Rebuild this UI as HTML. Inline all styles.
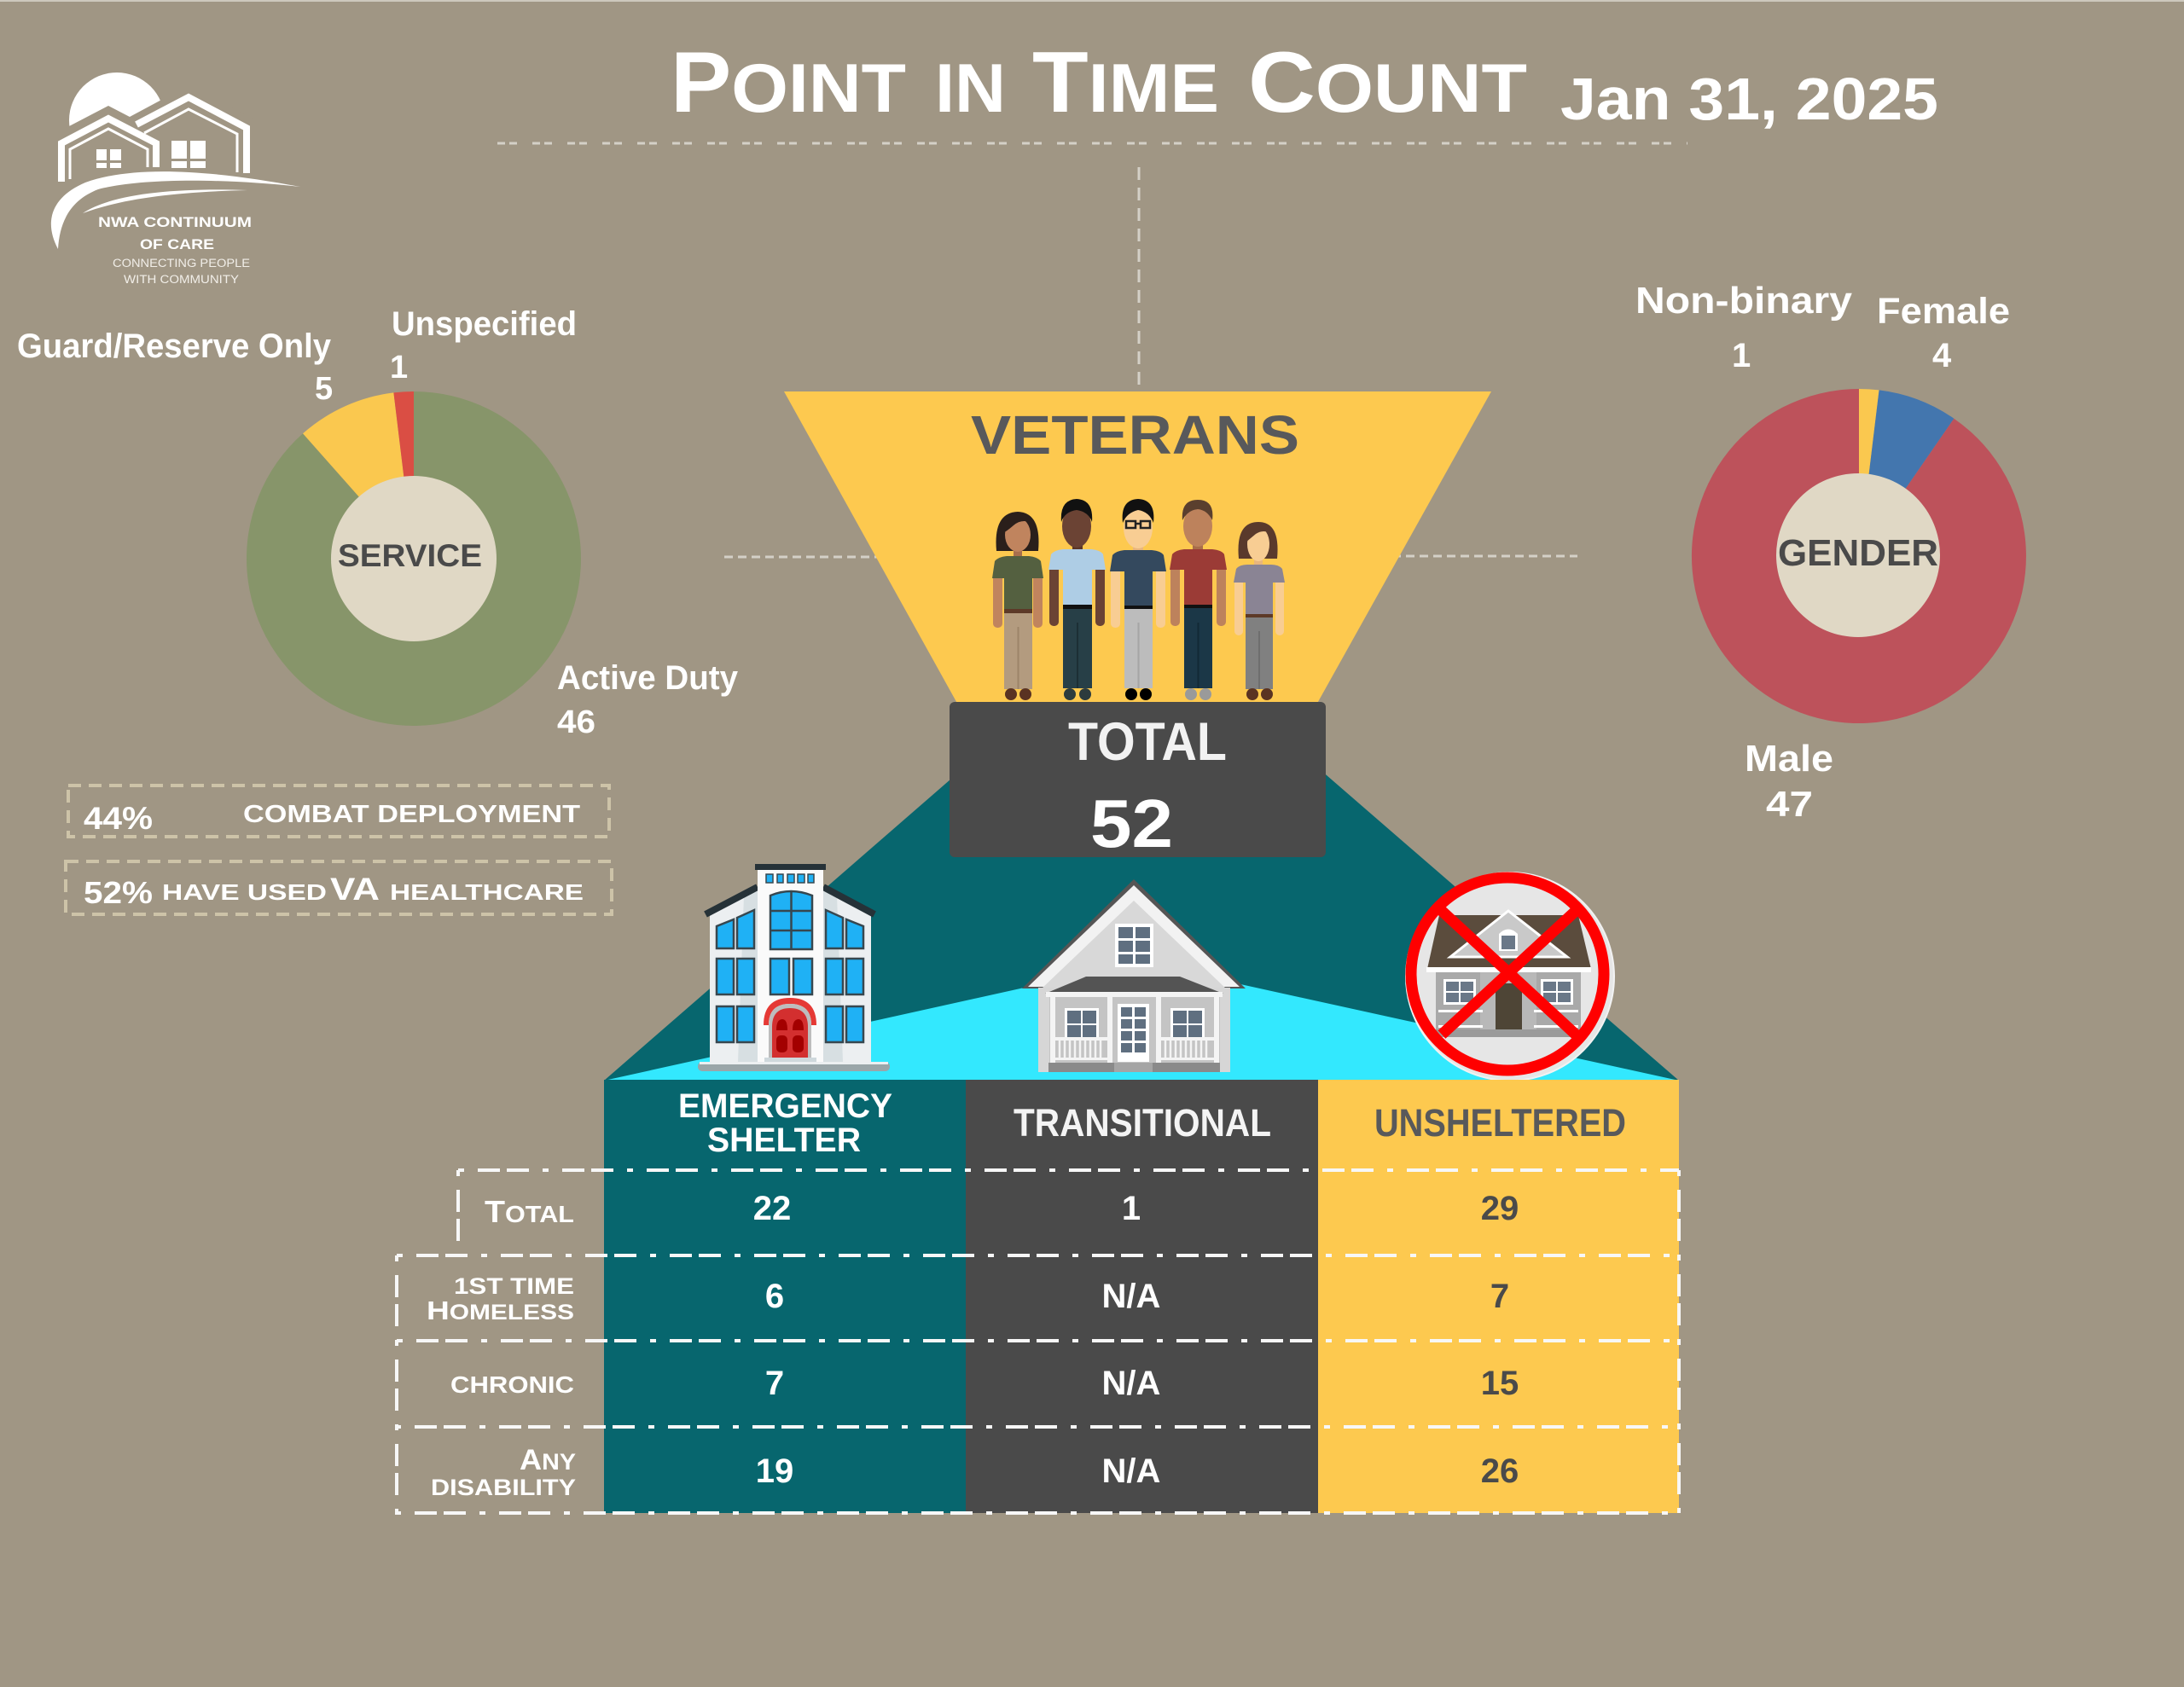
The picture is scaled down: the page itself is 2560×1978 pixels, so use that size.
<!DOCTYPE html>
<html><head><meta charset="utf-8"><style>
html,body{margin:0;padding:0;background:#a09684;}
svg{display:block;}
text{font-family:"Liberation Sans",Arial,sans-serif;}
</style></head><body>
<svg width="2560" height="1978" viewBox="0 0 2560 1978" xmlns="http://www.w3.org/2000/svg">
<rect x="0" y="0" width="2560" height="1978" fill="#a09684"/>
<rect x="0" y="0" width="2560" height="2" fill="#cdc8bd"/>

<!-- guide dashed lines -->
<g stroke="#d4d0c7" stroke-width="3" fill="none">
<line x1="583" y1="168" x2="1978" y2="168" stroke-dasharray="9 5 9 18"/>
<line x1="1335" y1="196" x2="1335" y2="460" stroke-dasharray="15 9"/>
<line x1="849" y1="653" x2="1100" y2="653" stroke-dasharray="10 6"/>
<line x1="1600" y1="652" x2="1849" y2="652" stroke-dasharray="10 6"/>
</g>

<!-- roof & ground -->
<polygon points="1337,720 1968,1267 708,1267" fill="#07666e"/>
<polygon points="708,1267 1336,1128 1968,1267" fill="#33e8fe"/>

<!-- veterans trapezoid -->
<polygon points="919,459 1748,459 1541,830 1125,830" fill="#fdc94f"/>
<text x="1138" y="532" font-size="64" font-weight="bold" fill="#58595b" textLength="385" lengthAdjust="spacingAndGlyphs">VETERANS</text>

<!-- people -->
<!-- P1 -->
<g>
<path d="M1168,646 Q1164,601 1193,600 Q1221,601 1217,646 Z" fill="#2a1f1b"/>
<rect x="1188" y="640" width="10" height="14" fill="#a86f4d"/>
<ellipse cx="1193" cy="627" rx="15" ry="20" fill="#c0845e"/>
<path d="M1174,622 Q1176,603 1193,603 Q1210,603 1212,614 Q1198,607 1188,616 Q1180,623 1174,626 Z" fill="#2a1f1b"/>
<rect x="1164" y="668" width="11" height="68" rx="5" fill="#c0845e"/>
<rect x="1211" y="668" width="11" height="68" rx="5" fill="#c0845e"/>
<path d="M1163,678 L1166,658 Q1170,653 1180,652 L1206,652 Q1216,653 1220,658 L1223,678 L1210,678 L1210,716 L1177,716 L1177,678 Z" fill="#546040"/>
<rect x="1177" y="714" width="33" height="5" fill="#5d3a28"/>
<rect x="1177" y="719" width="33" height="89" fill="#b39b7f"/>
<rect x="1192.5" y="735" width="2" height="73" fill="#9c8469"/>
<ellipse cx="1185" cy="814" rx="7" ry="7" fill="#5a3322"/>
<ellipse cx="1202" cy="814" rx="7" ry="7" fill="#5a3322"/>
</g>
<!-- P2 -->
<g>
<rect x="1257" y="636" width="12" height="12" fill="#5a3628"/>
<ellipse cx="1262" cy="617" rx="17" ry="25" fill="#6b4334"/>
<path d="M1244,612 Q1242,586 1262,585 Q1282,586 1280,612 Q1276,600 1262,598 Q1248,600 1244,612 Z" fill="#111"/>
<rect x="1230" y="660" width="11" height="74" rx="5" fill="#6b4334"/>
<rect x="1284" y="660" width="11" height="74" rx="5" fill="#6b4334"/>
<path d="M1229,668 L1232,650 Q1236,645 1246,644 L1279,644 Q1290,645 1293,650 L1296,668 L1280,668 L1280,710 L1246,710 L1246,668 Z" fill="#aecde5"/>
<rect x="1246" y="709" width="34" height="5" fill="#111"/>
<rect x="1246" y="714" width="34" height="93" fill="#273f47"/>
<rect x="1262" y="730" width="2" height="77" fill="#1c2f35"/>
<ellipse cx="1254" cy="814" rx="7" ry="7" fill="#2c3b3d"/>
<ellipse cx="1272" cy="814" rx="7" ry="7" fill="#2c3b3d"/>
</g>
<!-- P3 -->
<g>
<rect x="1328" y="636" width="12" height="12" fill="#e8b57d"/>
<ellipse cx="1334" cy="619" rx="17" ry="24" fill="#f8cd93"/>
<path d="M1316,613 Q1313,586 1334,585 Q1355,586 1352,613 Q1347,600 1334,598 Q1321,601 1316,613 Z" fill="#111"/>
<g fill="none" stroke="#222" stroke-width="2.5"><rect x="1320" y="611" width="11" height="8"/><rect x="1337" y="611" width="11" height="8"/><line x1="1331" y1="614" x2="1337" y2="614"/></g>
<rect x="1302" y="662" width="11" height="74" rx="5" fill="#f8cd93"/>
<rect x="1355" y="662" width="11" height="74" rx="5" fill="#f8cd93"/>
<path d="M1301,670 L1304,651 Q1308,646 1318,645 L1350,645 Q1361,646 1364,651 L1367,670 L1351,670 L1351,712 L1318,712 L1318,670 Z" fill="#34495e"/>
<rect x="1318" y="710" width="33" height="4" fill="#111"/>
<rect x="1318" y="714" width="33" height="93" fill="#bcbcbc"/>
<rect x="1333.5" y="730" width="2" height="77" fill="#a5a5a5"/>
<ellipse cx="1326" cy="814" rx="7" ry="7" fill="#000"/>
<ellipse cx="1343" cy="814" rx="7" ry="7" fill="#000"/>
</g>
<!-- P4 -->
<g>
<rect x="1398" y="636" width="12" height="12" fill="#a86d4a"/>
<ellipse cx="1404" cy="617" rx="17" ry="24" fill="#bd825c"/>
<path d="M1386,610 Q1384,586 1404,586 Q1424,586 1421,610 Q1415,598 1404,597 Q1392,598 1386,610 Z" fill="#5a3f2e"/>
<rect x="1372" y="660" width="11" height="74" rx="5" fill="#bd825c"/>
<rect x="1426" y="660" width="11" height="74" rx="5" fill="#bd825c"/>
<path d="M1371,668 L1374,650 Q1378,645 1388,644 L1421,644 Q1432,645 1435,650 L1438,668 L1421,668 L1421,709 L1388,709 L1388,668 Z" fill="#9b3b36"/>
<rect x="1388" y="709" width="33" height="4" fill="#111"/>
<rect x="1388" y="713" width="33" height="94" fill="#1b3747"/>
<rect x="1403.5" y="730" width="2" height="77" fill="#122936"/>
<ellipse cx="1396" cy="814" rx="7" ry="7" fill="#9a9a9a"/>
<ellipse cx="1413" cy="814" rx="7" ry="7" fill="#9a9a9a"/>
</g>
<!-- P5 -->
<g>
<path d="M1452,655 Q1448,612 1475,612 Q1501,612 1497,655 Z" fill="#5a3a2c"/>
<rect x="1470" y="652" width="10" height="12" fill="#e8b57d"/>
<ellipse cx="1475" cy="638" rx="13" ry="20" fill="#f8cd93"/>
<path d="M1460,632 Q1462,616 1477,615 Q1490,616 1491,626 Q1481,620 1472,626 Q1466,631 1460,636 Z" fill="#5a3a2c"/>
<rect x="1447" y="675" width="10" height="70" rx="5" fill="#f8cd93"/>
<rect x="1495" y="675" width="10" height="70" rx="5" fill="#f8cd93"/>
<path d="M1446,683 L1449,667 Q1453,662 1462,662 L1490,662 Q1499,662 1503,667 L1506,683 L1492,683 L1492,722 L1460,722 L1460,683 Z" fill="#8a8494"/>
<rect x="1460" y="720" width="32" height="4" fill="#5d3a28"/>
<rect x="1460" y="724" width="32" height="84" fill="#808080"/>
<rect x="1475" y="740" width="2" height="68" fill="#6e6e6e"/>
<ellipse cx="1468" cy="814" rx="7" ry="7" fill="#5a3322"/>
<ellipse cx="1485" cy="814" rx="7" ry="7" fill="#5a3322"/>
</g>

<!-- total box -->
<rect x="1113" y="823" width="441" height="182" rx="6" fill="#4a4a4a"/>
<text x="1252" y="891" font-size="63" font-weight="bold" fill="#f2f2f2" textLength="186" lengthAdjust="spacingAndGlyphs">TOTAL</text>
<text x="1278" y="993" font-size="80" font-weight="bold" fill="#ffffff" textLength="97" lengthAdjust="spacingAndGlyphs">52</text>

<!-- emergency shelter building -->
<g>
<rect x="818" y="1245" width="225" height="11" rx="5" fill="#9aa6a9"/>
<rect x="820" y="1245" width="221" height="3" fill="#eceff1"/>
<polygon points="832,1070 888,1040 888,1245 832,1245" fill="#eceff1"/>
<polygon points="965,1040 1021,1070 1021,1245 965,1245" fill="#eceff1"/>
<polygon points="872,1050 888,1045 888,1245 865,1245" fill="#cfd8dc" opacity="0.7"/>
<polygon points="965,1045 981,1050 988,1245 965,1245" fill="#cfd8dc" opacity="0.7"/>
<polyline points="827,1072 888,1040" stroke="#263238" stroke-width="8" fill="none"/>
<polyline points="965,1040 1025,1072" stroke="#263238" stroke-width="8" fill="none"/>
<rect x="888" y="1018" width="77" height="227" fill="#fafafa"/>
<rect x="885" y="1013" width="83" height="7" fill="#263238"/>
<g fill="#1fb1f5" stroke="#37474f" stroke-width="1.5">
<rect x="898" y="1025" width="8" height="10"/><rect x="911" y="1025" width="7" height="10"/><rect x="923" y="1025" width="8" height="10"/><rect x="935" y="1025" width="8" height="10"/><rect x="947" y="1025" width="7" height="10"/>
</g>
<g fill="#1fb1f5" stroke="#37474f" stroke-width="2.5">
<path d="M903,1113 L903,1050 Q927,1040 952,1050 L952,1113 Z"/>
<line x1="927.5" y1="1044" x2="927.5" y2="1113"/><line x1="903" y1="1068" x2="952" y2="1068"/><line x1="903" y1="1091" x2="952" y2="1091"/>
<rect x="903" y="1124" width="22" height="42"/><rect x="930" y="1124" width="22" height="42"/>
<path d="M840,1112 L840,1086 L860,1078 L860,1112 Z"/><path d="M864,1112 L864,1076 L884,1067 L884,1112 Z"/>
<rect x="840" y="1124" width="20" height="42"/><rect x="864" y="1124" width="20" height="42"/>
<rect x="840" y="1180" width="20" height="42"/><rect x="864" y="1180" width="20" height="42"/>
<path d="M968,1112 L968,1067 L988,1076 L988,1112 Z"/><path d="M992,1112 L992,1078 L1012,1086 L1012,1112 Z"/>
<rect x="968" y="1124" width="20" height="42"/><rect x="992" y="1124" width="20" height="42"/>
<rect x="968" y="1180" width="20" height="42"/><rect x="992" y="1180" width="20" height="42"/>
</g>
<path d="M895,1202 Q895,1170 926,1170 Q957,1170 957,1202 L951,1202 Q951,1177 926,1177 Q901,1177 901,1202 Z" fill="#e53935"/>
<path d="M901,1240 L901,1202 Q901,1177 926,1177 Q951,1177 951,1202 L951,1240 Z" fill="#bdbdbd"/>
<path d="M905,1240 L905,1204 Q905,1182 926,1182 Q947,1182 947,1204 L947,1240 Z" fill="#d32f2f"/>
<g fill="#a30000"><path d="M910,1208 Q910,1195 917,1195 Q923,1195 923,1208 Z"/><path d="M929,1208 Q929,1195 936,1195 Q942,1195 942,1208 Z"/><rect x="910" y="1214" width="13" height="20" rx="5"/><rect x="929" y="1214" width="13" height="20" rx="5"/></g>
<rect x="896" y="1240" width="61" height="5" fill="#cfd8dc"/>
</g>

<!-- transitional house -->
<g>
<polygon points="1198,1159 1329,1031 1460,1159" fill="#555"/>
<polygon points="1205,1157 1329,1038 1453,1157" fill="#f2f2f2"/>
<polygon points="1220,1160 1329,1056 1438,1160" fill="#d8d8d8"/>
<rect x="1217" y="1158" width="225" height="99" fill="#d6d6d6"/>
<rect x="1307" y="1083" width="45" height="51" fill="#fff"/>
<g fill="#5f6f80"><rect x="1311" y="1087" width="17" height="13"/><rect x="1331" y="1087" width="17" height="13"/><rect x="1311" y="1103" width="17" height="13"/><rect x="1331" y="1103" width="17" height="13"/><rect x="1311" y="1119" width="17" height="11"/><rect x="1331" y="1119" width="17" height="11"/></g>
<rect x="1230" y="1166" width="200" height="81" fill="#c4c4c4"/>
<polygon points="1225,1165 1273,1145 1383,1145 1434,1165" fill="#545454"/>
<rect x="1226" y="1163" width="207" height="6" fill="#f4f4f4"/>
<g fill="#f4f4f4"><rect x="1231" y="1169" width="6" height="78"/><rect x="1298" y="1169" width="6" height="78"/><rect x="1355" y="1169" width="6" height="78"/><rect x="1423" y="1169" width="6" height="78"/></g>
<rect x="1248" y="1182" width="40" height="38" fill="#fff"/>
<rect x="1372" y="1182" width="40" height="38" fill="#fff"/>
<g fill="#5f6f80"><rect x="1251" y="1185" width="16" height="15"/><rect x="1269" y="1185" width="16" height="15"/><rect x="1251" y="1202" width="16" height="15"/><rect x="1269" y="1202" width="16" height="15"/>
<rect x="1375" y="1185" width="16" height="15"/><rect x="1393" y="1185" width="16" height="15"/><rect x="1375" y="1202" width="16" height="15"/><rect x="1393" y="1202" width="16" height="15"/></g>
<rect x="1310" y="1177" width="37" height="68" fill="#fff"/>
<g fill="#5f6f80"><rect x="1314" y="1181" width="13" height="11"/><rect x="1330" y="1181" width="13" height="11"/><rect x="1314" y="1195" width="13" height="11"/><rect x="1330" y="1195" width="13" height="11"/><rect x="1314" y="1209" width="13" height="11"/><rect x="1330" y="1209" width="13" height="11"/><rect x="1314" y="1223" width="13" height="11"/><rect x="1330" y="1223" width="13" height="11"/></g>
<g fill="#f4f4f4"><rect x="1237" y="1216" width="61" height="4"/><rect x="1361" y="1216" width="62" height="4"/><rect x="1237" y="1240" width="61" height="3"/><rect x="1361" y="1240" width="62" height="3"/></g>
<g stroke="#f4f4f4" stroke-width="2.5"><line x1="1242" y1="1220" x2="1242" y2="1240"/><line x1="1248" y1="1220" x2="1248" y2="1240"/><line x1="1254" y1="1220" x2="1254" y2="1240"/><line x1="1260" y1="1220" x2="1260" y2="1240"/><line x1="1266" y1="1220" x2="1266" y2="1240"/><line x1="1272" y1="1220" x2="1272" y2="1240"/><line x1="1278" y1="1220" x2="1278" y2="1240"/><line x1="1284" y1="1220" x2="1284" y2="1240"/><line x1="1290" y1="1220" x2="1290" y2="1240"/>
<line x1="1366" y1="1220" x2="1366" y2="1240"/><line x1="1372" y1="1220" x2="1372" y2="1240"/><line x1="1378" y1="1220" x2="1378" y2="1240"/><line x1="1384" y1="1220" x2="1384" y2="1240"/><line x1="1390" y1="1220" x2="1390" y2="1240"/><line x1="1396" y1="1220" x2="1396" y2="1240"/><line x1="1402" y1="1220" x2="1402" y2="1240"/><line x1="1408" y1="1220" x2="1408" y2="1240"/><line x1="1414" y1="1220" x2="1414" y2="1240"/></g>
<rect x="1229" y="1246" width="201" height="11" fill="#8a8a8a"/>
<rect x="1306" y="1246" width="45" height="11" fill="#a5a5a5"/>
</g>

<!-- unsheltered icon -->
<g>
<circle cx="1770" cy="1145" r="122" fill="#e6e6e6" stroke="#f2f2f2" stroke-width="2"/>
<polygon points="1673,1136 1687,1073 1850,1073 1865,1136" fill="#5b4c3d"/>
<polygon points="1700,1122 1768,1068 1837,1122" fill="#c9c9c9" stroke="#fff" stroke-width="3"/>
<path d="M1757,1115 L1757,1095 Q1768,1084 1779,1095 L1779,1115 Z" fill="#fff"/>
<rect x="1760" y="1097" width="16" height="16" fill="#6a7888"/>
<rect x="1683" y="1140" width="170" height="73" fill="#a9a9a9"/>
<rect x="1672" y="1134" width="193" height="6" fill="#fff"/>
<rect x="1735" y="1140" width="66" height="73" fill="#b8b8b8"/>
<rect x="1692" y="1148" width="38" height="30" fill="#fff"/>
<rect x="1806" y="1148" width="38" height="30" fill="#fff"/>
<g fill="#6a7888"><rect x="1695" y="1151" width="15" height="11"/><rect x="1712" y="1151" width="15" height="11"/><rect x="1695" y="1164" width="15" height="11"/><rect x="1712" y="1164" width="15" height="11"/><rect x="1809" y="1151" width="15" height="11"/><rect x="1826" y="1151" width="15" height="11"/><rect x="1809" y="1164" width="15" height="11"/><rect x="1826" y="1164" width="15" height="11"/></g>
<rect x="1753" y="1153" width="31" height="54" fill="#4e4536"/>
<g fill="#fff"><rect x="1686" y="1184" width="52" height="3"/><rect x="1798" y="1184" width="52" height="3"/><rect x="1686" y="1202" width="52" height="3"/><rect x="1798" y="1202" width="52" height="3"/></g>
<rect x="1683" y="1207" width="170" height="9" fill="#9a9a9a"/>
<circle cx="1767" cy="1142" r="113" fill="none" stroke="#ff0000" stroke-width="13"/>
<line x1="1690" y1="1068" x2="1847" y2="1213" stroke="#ff0000" stroke-width="13"/>
<line x1="1847" y1="1068" x2="1690" y2="1213" stroke="#ff0000" stroke-width="13"/>
</g>

<!-- table columns -->
<rect x="708" y="1266" width="424" height="508" fill="#07666e"/>
<rect x="1132" y="1266" width="413" height="508" fill="#4a4a4a"/>
<rect x="1545" y="1266" width="423" height="508" fill="#fdc94f"/>

<!-- table headers -->
<text x="795" y="1310" font-size="40" font-weight="bold" fill="#fff" textLength="251" lengthAdjust="spacingAndGlyphs">EMERGENCY</text>
<text x="829" y="1350" font-size="40" font-weight="bold" fill="#fff" textLength="180" lengthAdjust="spacingAndGlyphs">SHELTER</text>
<text x="1188" y="1332" font-size="45" font-weight="bold" fill="#f4f4f4" textLength="302" lengthAdjust="spacingAndGlyphs">TRANSITIONAL</text>
<text x="1611" y="1332" font-size="45" font-weight="bold" fill="#58595b" textLength="295" lengthAdjust="spacingAndGlyphs">UNSHELTERED</text>

<!-- table dashed borders -->
<g stroke="#f7f7f7" stroke-width="4" fill="none" stroke-dasharray="7 16 26 8 26 16">
<line x1="537" y1="1372" x2="1968" y2="1372"/>
<line x1="465" y1="1472" x2="1968" y2="1472"/>
<line x1="465" y1="1572" x2="1968" y2="1572"/>
<line x1="463" y1="1673" x2="1968" y2="1673"/>
<line x1="463" y1="1774" x2="1968" y2="1774"/>
<line x1="537" y1="1372" x2="537" y2="1472"/>
<line x1="465" y1="1472" x2="465" y2="1774"/>
<line x1="1968" y1="1372" x2="1968" y2="1774"/>
</g>

<!-- row labels -->
<g fill="#fff" font-weight="bold">
<text x="568" y="1433" textLength="105" lengthAdjust="spacingAndGlyphs"><tspan font-size="36">T</tspan><tspan font-size="28">OTAL</tspan></text>
<text x="532" y="1517" font-size="27" textLength="141" lengthAdjust="spacingAndGlyphs">1ST TIME</text>
<text x="500" y="1547" textLength="173" lengthAdjust="spacingAndGlyphs"><tspan font-size="31">H</tspan><tspan font-size="25">OMELESS</tspan></text>
<text x="528" y="1633" font-size="28" textLength="145" lengthAdjust="spacingAndGlyphs">CHRONIC</text>
<text x="609" y="1723" textLength="66" lengthAdjust="spacingAndGlyphs"><tspan font-size="34">A</tspan><tspan font-size="27">NY</tspan></text>
<text x="505" y="1753" font-size="27" textLength="170" lengthAdjust="spacingAndGlyphs">DISABILITY</text>
</g>

<!-- values -->
<g font-size="40" font-weight="bold" text-anchor="middle">
<g fill="#fff">
<text x="905" y="1430">22</text><text x="908" y="1533">6</text><text x="908" y="1635">7</text><text x="908" y="1738">19</text>
<text x="1326" y="1430">1</text><text x="1326" y="1533">N/A</text><text x="1326" y="1635">N/A</text><text x="1326" y="1738">N/A</text>
</g>
<g fill="#4a4a4a">
<text x="1758" y="1430">29</text><text x="1758" y="1533">7</text><text x="1758" y="1635">15</text><text x="1758" y="1738">26</text>
</g>
</g>

<!-- service donut -->
<path d="M485,655 L485,459 A196,196 0 1 1 355.0,508.3 Z" fill="#87956a"/>
<path d="M485,655 L355.0,508.3 A196,196 0 0 1 461.4,460.4 Z" fill="#fac84f"/>
<path d="M485,655 L461.4,460.4 A196,196 0 0 1 485,459 Z" fill="#da4e44"/>
<circle cx="485" cy="655" r="97" fill="#e0d8c5"/>
<text x="396" y="664" font-size="37" font-weight="bold" fill="#4a4a4a" textLength="169" lengthAdjust="spacingAndGlyphs">SERVICE</text>

<g fill="#fff" font-weight="bold">
<text x="20" y="419" font-size="40" textLength="368" lengthAdjust="spacingAndGlyphs">Guard/Reserve Only</text>
<text x="369" y="468" font-size="38">5</text>
<text x="459" y="393" font-size="40" textLength="217" lengthAdjust="spacingAndGlyphs">Unspecified</text>
<text x="457" y="443" font-size="38">1</text>
<text x="653" y="808" font-size="40" textLength="212" lengthAdjust="spacingAndGlyphs">Active Duty</text>
<text x="653" y="859" font-size="38" textLength="45" lengthAdjust="spacingAndGlyphs">46</text>
</g>

<!-- gender donut -->
<path d="M2179,652 L2290.3,490.7 A196,196 0 1 1 2179,456 Z" fill="#bd525b"/>
<path d="M2179,652 L2179,456 A196,196 0 0 1 2202.6,457.4 Z" fill="#fac84f"/>
<path d="M2179,652 L2202.6,457.4 A196,196 0 0 1 2290.3,490.7 Z" fill="#4376ae"/>
<circle cx="2178" cy="651" r="96" fill="#e0d8c5"/>
<text x="2084" y="663" font-size="44" font-weight="bold" fill="#4a4a4a" textLength="188" lengthAdjust="spacingAndGlyphs">GENDER</text>

<g fill="#fff" font-weight="bold">
<text x="1917" y="367" font-size="44" textLength="254" lengthAdjust="spacingAndGlyphs">Non-binary</text>
<text x="2030" y="430" font-size="40">1</text>
<text x="2200" y="379" font-size="43" textLength="156" lengthAdjust="spacingAndGlyphs">Female</text>
<text x="2265" y="430" font-size="40">4</text>
<text x="2045" y="904" font-size="44" textLength="104" lengthAdjust="spacingAndGlyphs">Male</text>
<text x="2070" y="957" font-size="42" textLength="55" lengthAdjust="spacingAndGlyphs">47</text>
</g>

<!-- stat boxes -->
<g stroke="#cdc3a8" stroke-width="4" fill="none" stroke-dasharray="15 9">
<rect x="80" y="921" width="634" height="60"/>
<rect x="77" y="1010" width="640" height="62"/>
</g>
<g fill="#fff" font-weight="bold">
<text x="98" y="972" font-size="37" textLength="81" lengthAdjust="spacingAndGlyphs">44%</text>
<text x="285" y="964" font-size="29" textLength="395" lengthAdjust="spacingAndGlyphs">COMBAT DEPLOYMENT</text>
<text x="98" y="1059" font-size="36" textLength="81" lengthAdjust="spacingAndGlyphs">52%</text>
<text x="190" y="1055" font-size="26" textLength="193" lengthAdjust="spacingAndGlyphs">HAVE USED</text>
<text x="387" y="1055" font-size="37" textLength="58" lengthAdjust="spacingAndGlyphs">VA</text>
<text x="457" y="1055" font-size="26" textLength="227" lengthAdjust="spacingAndGlyphs">HEALTHCARE</text>
</g>

<!-- logo -->
<circle cx="137" cy="141" r="56" fill="#fff"/>
<polygon points="58,235 58,160 127,124 152,137 221,100 302,142 302,235" fill="#a09684"/>
<g fill="none" stroke="#fff">
<polyline points="72,213 72,168 127,139 183,168 183,196" stroke-width="8"/>
<polyline points="82,210 82,175 127,151 173,175 173,196" stroke-width="3"/>
<polyline points="160,146 221,114 289,150 289,203" stroke-width="8"/>
<polyline points="169,156 221,128 278,157 278,202" stroke-width="3"/>
</g>
<g fill="#fff">
<rect x="113" y="175" width="12" height="13"/><rect x="129" y="175" width="13" height="13"/><rect x="113" y="191" width="12" height="6"/><rect x="129" y="191" width="13" height="6"/>
<rect x="201" y="165" width="18" height="21"/><rect x="223" y="165" width="18" height="21"/><rect x="201" y="189" width="18" height="8"/><rect x="223" y="189" width="18" height="8"/>
<path d="M68,292 C52,262 58,232 100,214 C150,196 230,196 352,219 C250,208 160,210 115,222 C82,235 70,260 68,292 Z"/>
<path d="M97,250 C130,228 200,220 290,223 C200,225 140,234 97,250 Z"/>
</g>
<g fill="#fff" font-weight="bold">
<text x="115" y="266" font-size="17" textLength="180" lengthAdjust="spacingAndGlyphs">NWA CONTINUUM</text>
<text x="164" y="292" font-size="17" textLength="87" lengthAdjust="spacingAndGlyphs">OF CARE</text>
</g>
<g fill="#f1eee8">
<text x="132" y="313" font-size="13.5" textLength="161" lengthAdjust="spacingAndGlyphs">CONNECTING PEOPLE</text>
<text x="145" y="332" font-size="13.5" textLength="135" lengthAdjust="spacingAndGlyphs">WITH COMMUNITY</text>
</g>

<!-- title -->
<g fill="#fff" font-weight="bold">
<text x="786" y="131" textLength="276" lengthAdjust="spacingAndGlyphs"><tspan font-size="101">P</tspan><tspan font-size="81">OINT</tspan></text>
<text x="1096" y="131" font-size="81" textLength="83" lengthAdjust="spacingAndGlyphs">IN</text>
<text x="1210" y="131" textLength="219" lengthAdjust="spacingAndGlyphs"><tspan font-size="101">T</tspan><tspan font-size="81">IME</tspan></text>
<text x="1463" y="131" textLength="327" lengthAdjust="spacingAndGlyphs"><tspan font-size="101">C</tspan><tspan font-size="81">OUNT</tspan></text>
<text x="1829" y="140" font-size="70" textLength="443" lengthAdjust="spacingAndGlyphs">Jan 31, 2025</text>
</g>
</svg>
</body></html>
